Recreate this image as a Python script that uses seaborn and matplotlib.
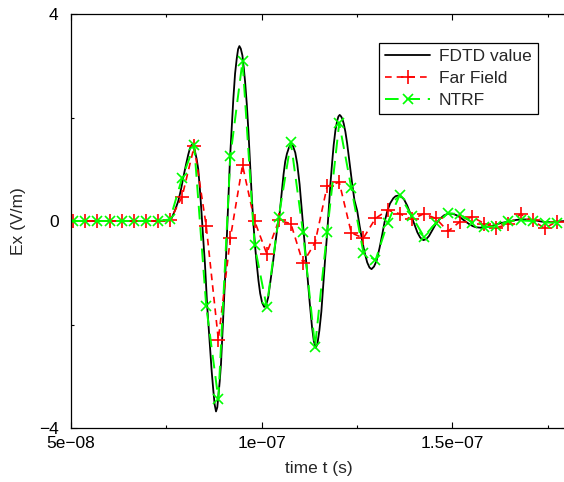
import numpy as np
import pandas as pd
import matplotlib
matplotlib.use("Agg")
import matplotlib.pyplot as plt
import seaborn as sns
from matplotlib.ticker import FixedLocator, FixedFormatter

# ---------------- data ----------------
# sample times (ns) of the Far Field / NTRF series
sample_t_ns = [50.6, 53.77, 56.94, 60.11, 63.28, 66.45, 69.62, 72.79, 75.96, 79.13,
               82.3, 85.47, 88.64, 91.81, 94.98, 98.15, 101.32, 104.49, 107.66, 110.83,
               114.0, 117.17, 120.34, 123.51, 126.68, 129.85, 133.02, 136.19, 139.36, 142.53,
               145.7, 148.87, 152.04, 155.21, 158.38, 161.55, 164.72, 167.89, 171.06, 174.23,
               177.4]

far_field = [0, 0, 0, 0, 0, 0, 0, 0, 0.01, 0.47,
             1.44, -0.1, -2.29, -0.32, 1.08, 0.0, -0.63, 0.01, -0.05, -0.81,
             -0.42, 0.67, 0.75, -0.23, -0.33, 0.05, 0.21, 0.14, 0.03, 0.14,
             0.05, -0.2, -0.01, 0.08, -0.05, -0.13, -0.06, 0.13, 0.01, -0.14,
             -0.01]

ntrf = [0, 0, 0, 0, 0, 0, 0, 0, 0.03, 0.83,
        1.46, -1.65, -3.44, 1.26, 3.09, -0.47, -1.66, 0.08, 1.52, -0.21,
        -2.43, -0.21, 1.89, 0.64, -0.61, -0.76, -0.04, 0.5, 0.1, -0.3,
        -0.04, 0.15, 0.13, -0.03, -0.12, -0.1, 0.0, 0.01, 0.0, -0.03,
        -0.03]

# FDTD reference curve (ns, V/m)
fdtd_t_ns = [50.0, 73.29, 75.05, 76.37, 77.24, 78.11, 78.82, 79.42, 80.13, 80.74,
             81.18, 81.63, 82.11, 82.5, 82.95, 83.37, 83.82, 84.26, 84.68, 85.13,
             85.74, 86.45, 86.89, 87.32, 87.68, 88.03, 88.37, 88.63, 89.0, 89.34,
             89.95, 90.58, 91.11, 91.71, 92.16, 92.58, 93.03, 93.47, 93.82, 94.16,
             94.53, 94.95, 95.32, 95.66, 96.11, 96.53, 96.97, 97.42, 97.84, 98.29,
             98.74, 99.16, 99.61, 100.13, 100.66, 101.18, 101.71, 102.24, 102.89, 103.55,
             104.08, 104.68, 105.21, 105.74, 106.18, 106.63, 107.16, 107.68, 108.21, 108.82,
             109.34, 109.95, 110.47, 111.0, 111.53, 112.05, 112.63, 113.21, 113.68, 114.16,
             114.61, 115.13, 115.66, 116.11, 116.63, 117.16, 117.58, 118.03, 118.47, 118.89,
             119.34, 119.79, 120.13, 120.47, 120.84, 121.18, 121.53, 121.97, 122.42, 122.84,
             123.29, 123.74, 124.34, 125.05, 125.66, 126.37, 126.97, 127.68, 128.29, 128.82,
             129.47, 130.13, 130.92, 131.63, 132.24, 132.95, 133.68, 134.53, 135.13, 135.74,
             136.45, 137.32, 138.16, 139.08, 140.0, 140.84, 141.58, 142.42, 143.16, 143.89,
             144.74, 145.66, 146.71, 147.84, 148.95, 150.05, 151.18, 152.24, 153.29, 154.42,
             155.39, 156.18, 157.5, 158.82, 160.13, 161.45, 162.76, 164.08, 165.39, 166.71,
             168.03, 169.34, 170.66, 171.97, 173.29, 174.61, 175.92, 177.24, 180.0]

fdtd_v = [0, 0, 0.01, 0.05, 0.2, 0.38, 0.6, 0.83, 1.08, 1.28,
          1.4, 1.47, 1.45, 1.35, 1.2, 1.0, 0.6, 0.13, -0.35, -0.83,
          -1.67, -2.44, -2.9, -3.27, -3.55, -3.68, -3.6, -3.4, -3.1, -2.76,
          -1.79, -0.83, 0.13, 1.22, 1.8, 2.37, 2.85, 3.14, 3.32, 3.38,
          3.33, 3.2, 2.95, 2.69, 2.25, 1.73, 1.1, 0.45, -0.05, -0.5,
          -0.85, -1.15, -1.4, -1.58, -1.66, -1.62, -1.48, -1.2, -0.85, -0.45,
          -0.15, 0.12, 0.5, 0.9, 1.15, 1.3, 1.42, 1.48, 1.45, 1.32,
          1.1, 0.71, 0.25, -0.2, -0.65, -1.09, -1.6, -2.05, -2.32, -2.45,
          -2.38, -2.12, -1.75, -1.28, -0.75, -0.26, 0.22, 0.71, 1.12, 1.47,
          1.75, 1.93, 2.02, 2.05, 2.02, 1.97, 1.88, 1.72, 1.5, 1.25,
          0.98, 0.72, 0.4, 0.2, -0.08, -0.38, -0.6, -0.8, -0.9, -0.93,
          -0.88, -0.77, -0.52, -0.26, -0.02, 0.19, 0.34, 0.44, 0.48, 0.49,
          0.48, 0.42, 0.3, 0.13, -0.05, -0.22, -0.32, -0.37, -0.35, -0.29,
          -0.18, -0.06, 0.04, 0.11, 0.14, 0.14, 0.11, 0.06, 0.0, -0.06,
          -0.1, -0.12, -0.13, -0.12, -0.1, -0.07, -0.04, -0.02, 0.0, 0.02,
          0.03, 0.03, 0.02, 0.01, -0.01, -0.02, -0.02, -0.01, 0.0]

x_ticks = [5e-08, 1e-07, 1.5e-07]
x_tick_labels = ["5e\u221208", "1e\u221207", "1.5e\u221207"]
y_ticks = [-4, 0, 4]
y_tick_labels = ["\u22124", "0", "4"]

# ---------------- plot ----------------
sns.set_style("ticks")
plt.rcParams['font.family'] = ['Liberation Sans', 'DejaVu Sans']

fig = plt.figure(figsize=(5.64, 4.82), dpi=100)
ax = fig.add_axes([71 / 564, 54 / 482, 495.7 / 564, 414 / 482])

df_fdtd = pd.DataFrame({"t": np.array(fdtd_t_ns) * 1e-9, "v": fdtd_v})
df_s = pd.DataFrame({"t": np.array(sample_t_ns) * 1e-9, "far": far_field, "ntrf": ntrf})

sns.lineplot(data=df_fdtd, x="t", y="v", ax=ax, color="black", linewidth=1.3,
             label="FDTD value", sort=False, estimator=None)
sns.lineplot(data=df_s, x="t", y="far", ax=ax, color="red", linewidth=1.2,
             linestyle="--", marker="+", markersize=10, markeredgewidth=1.2,
             markeredgecolor="red", label="Far Field", sort=False, estimator=None)
sns.lineplot(data=df_s, x="t", y="ntrf", ax=ax, color="#00ff00", linewidth=1.4,
             linestyle="--", marker="x", markersize=7, markeredgewidth=1.2,
             markeredgecolor="#00ff00", label="NTRF", sort=False, estimator=None)
ax.lines[1].set_dashes([4, 3])
ax.lines[2].set_dashes([7, 4])

ax.set_xlim(5e-08, 1.8e-07)
ax.set_ylim(-4, 4)

ax.xaxis.set_major_locator(FixedLocator(x_ticks))
ax.xaxis.set_major_formatter(FixedFormatter(x_tick_labels))
ax.xaxis.set_minor_locator(FixedLocator([7.5e-08, 1.25e-07, 1.75e-07]))
ax.yaxis.set_major_locator(FixedLocator(y_ticks))
ax.yaxis.set_major_formatter(FixedFormatter(y_tick_labels))
ax.yaxis.set_minor_locator(FixedLocator([-2, 2]))

ax.tick_params(which="both", direction="in", top=True, right=True, labelsize=12.5,
               colors="black", width=0.8)
ax.tick_params(axis="x", which="major", length=4.5, pad=6)
ax.tick_params(axis="y", which="major", length=4.5, pad=9)
ax.tick_params(which="minor", length=2.5)

for s in ax.spines.values():
    s.set_visible(True)
    s.set_color("black")
    s.set_linewidth(0.9)

ax.set_xlabel("time t (s)", fontsize=12.5, labelpad=7)
ax.set_ylabel("Ex (V/m)", fontsize=12.5, labelpad=9)

leg = ax.legend(loc="upper right", bbox_to_anchor=(0.942, 0.931), fontsize=12.5,
                frameon=True, fancybox=False, edgecolor="black", framealpha=1,
                handlelength=2.6, handletextpad=0.5, borderpad=0.35,
                labelspacing=0.4, borderaxespad=0)
leg.get_frame().set_linewidth(0.9)

fig.savefig("out.png", dpi=100)
